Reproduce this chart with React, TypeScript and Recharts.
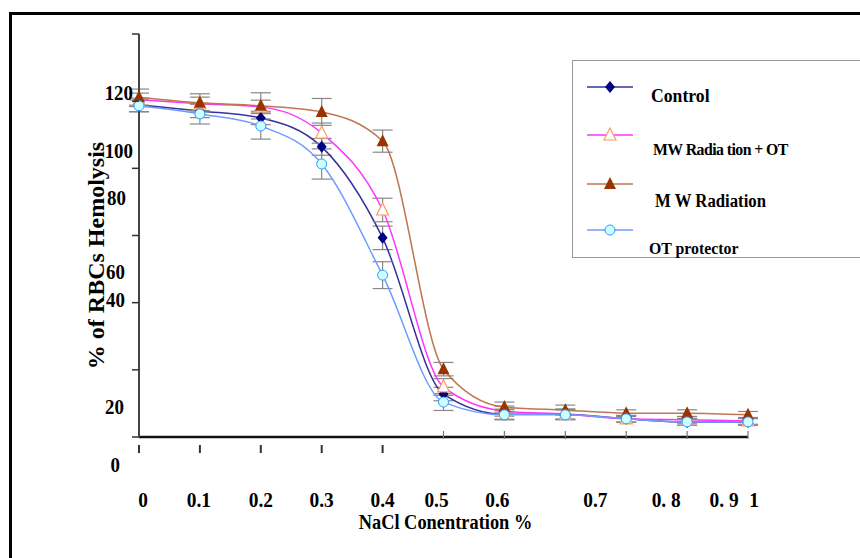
import React from 'react';
import { LineChart, Line, XAxis, YAxis, ErrorBar, Legend } from 'recharts';

// NaCl concentration (%)
const nacl = [0, 0.1, 0.2, 0.3, 0.4, 0.5, 0.6, 0.7, 0.8, 0.9, 1];
const xTickLabels = ['0', '0.1', '0.2', '0.3', '0.4', '0.5', '0.6', '0.7', '0. 8', '0. 9', '1'];
const yTicks = [0, 20, 40, 60, 80, 100, 120];
const yTickLabels = ['0', '20', '40', '60', '80', '100', '120'];

// % hemolysis
const control = [98.9, 97.1, 95.0, 86.4, 59.3, 12.8, 6.8, 6.8, 5.4, 4.5, 4.5];
const controlErr = [2, 2, 2, 2.5, 3.5, 2, 1.5, 1.5, 1, 1, 1];
const mwOt = [100.4, 99.2, 98.3, 90.5, 67.6, 14.9, 7.7, 6.8, 5.4, 5.1, 4.8];
const mwOtErr = [2, 2, 2, 3, 3.5, 2.5, 1.5, 1.5, 1, 1, 1];
const mw = [101.2, 99.5, 98.6, 96.8, 88.1, 20.2, 8.9, 8.0, 7.1, 7.1, 6.6];
const mwErr = [2.4, 2.7, 3.9, 4, 3.3, 2, 1.5, 1.5, 1, 1, 1];
const otProtector = [98.6, 96.2, 92.6, 81.3, 48.2, 10.4, 6.6, 6.6, 5.4, 4.5, 4.5];
const otErr = [1.8, 3, 3.9, 4.5, 4, 2.5, 1.5, 1.5, 1, 1, 1];

const data = nacl.map((x, i) => ({
  x,
  control: control[i],
  controlErr: controlErr[i],
  mwOt: mwOt[i],
  mwOtErr: mwOtErr[i],
  mw: mw[i],
  mwErr: mwErr[i],
  ot: otProtector[i],
  otErr: otErr[i],
}));

const serif = '"Liberation Serif", "Times New Roman", serif';

const Diamond = (p: any) => (
  <path
    key={`dia-${p.index}`}
    d={`M${p.cx},${p.cy - 6}L${p.cx + 5},${p.cy}L${p.cx},${p.cy + 6}L${p.cx - 5},${p.cy}Z`}
    fill="#000080"
  />
);
const OpenTriangle = (p: any) => (
  <path
    key={`otri-${p.index}`}
    d={`M${p.cx},${p.cy - 7}L${p.cx + 6},${p.cy + 5}L${p.cx - 6},${p.cy + 5}Z`}
    fill="#ffffff"
    stroke="#ff9966"
    strokeWidth={1.2}
  />
);
const FilledTriangle = (p: any) => (
  <path
    key={`tri-${p.index}`}
    d={`M${p.cx},${p.cy - 7}L${p.cx + 6},${p.cy + 5}L${p.cx - 6},${p.cy + 5}Z`}
    fill="#993300"
  />
);
const Circle = (p: any) => (
  <circle key={`cir-${p.index}`} cx={p.cx} cy={p.cy} r={5} fill="#ccffff" stroke="#3399ff" strokeWidth={1} />
);

const series = [
  { key: 'control', err: 'controlErr', name: 'Control', color: '#333399', Dot: Diamond, size: 19, dx: 78, dy: 35 },
  { key: 'mwOt', err: 'mwOtErr', name: 'MW Radia tion + OT', color: '#ff33ff', Dot: OpenTriangle, size: 17, dx: 80, dy: 89 },
  { key: 'mw', err: 'mwErr', name: 'M W Radiation', color: '#c0764f', Dot: FilledTriangle, size: 18, dx: 82, dy: 140 },
  { key: 'ot', err: 'otErr', name: 'OT protector', color: '#6f9bff', Dot: Circle, size: 17, dx: 76, dy: 188 },
];
const legendLineY = [26, 74, 123, 169];

// label offsets (the figure's labels do not sit on their ticks)
const yLabelShift: Record<string, [number, number]> = {
  '0': [-19, 28], '20': [-15, 37], '40': [-14, -3], '60': [-14, 36],
  '80': [-13, 29], '100': [-6, 49], '120': [-6, 59],
};
const xLabelShift = [4, -1, 0, 0, 0, -7, -7, 30, 40, 37, 6];

const YTick = (props: any) => {
  const { x, y, payload } = props;
  const label = yTickLabels[yTicks.indexOf(payload.value)];
  const [dx, dy] = yLabelShift[label];
  const tx = x + 8 + dx;
  const ty = y + dy;
  return (
    <g>
      <line x1={x + 1} x2={x + 8} y1={y} y2={y} stroke="#333" strokeWidth={1.5} />
      <text transform={`translate(${tx},${ty}) scale(0.9,1)`} dy="0.35em" textAnchor="end" fontFamily={serif} fontWeight="bold" fontSize={21} fill="#000">
        {label}
      </text>
    </g>
  );
};

const XTick = (props: any) => {
  const { x, y, payload } = props;
  const i = nacl.indexOf(payload.value);
  const below = i <= 4;
  return (
    <g>
      {below ? (
        <line x1={x} x2={x} y1={y} y2={y + 8} stroke="#333" strokeWidth={2} />
      ) : (
        <line x1={x} x2={x} y1={y - 14} y2={y - 6} stroke="#777" strokeWidth={1.2} />
      )}
      <text transform={`translate(${x + xLabelShift[i]},${y + 62}) scale(0.88,1)`} textAnchor="middle" fontFamily={serif} fontWeight="bold" fontSize={22} fill="#000">
        {xTickLabels[i]}
      </text>
    </g>
  );
};

const CustomLegend = () => (
  <div style={{ position: 'relative', width: 300, height: 196, border: '1px solid #999', background: '#fff' }}>
    {series.map((s, i) => (
      <React.Fragment key={s.key}>
        <svg style={{ position: 'absolute', left: 14, top: legendLineY[i] - 8 }} width={48} height={16}>
          <line x1={0} x2={46} y1={8} y2={8} stroke={s.color} strokeWidth={1.5} />
          {s.Dot({ cx: 23, cy: 8, index: i })}
        </svg>
        <span
          style={{
            position: 'absolute', left: s.dx, top: s.dy, transform: 'translateY(-50%) scaleX(0.93)', transformOrigin: 'left center',
            fontFamily: serif, fontWeight: 'bold', fontSize: s.size, whiteSpace: 'nowrap', color: '#000',
            letterSpacing: i === 1 ? -0.6 : 0,
          }}
        >
          {s.name}
        </span>
      </React.Fragment>
    ))}
  </div>
);

export default function App() {
  return (
    <div style={{ position: 'absolute', left: 0, top: 0, width: 860, height: 558, overflow: 'hidden', background: '#fff' }}>
      <div style={{ position: 'absolute', left: 9, top: 12, width: 860, height: 560, borderLeft: '3px solid #000', borderTop: '3px solid #000' }} />
      <LineChart width={860} height={558} data={data} margin={{ top: 34, right: 112, bottom: 0, left: 0 }} style={{ position: 'absolute', left: 0, top: 0 }}>
        <XAxis
          type="number"
          dataKey="x"
          domain={[0, 1]}
          ticks={nacl}
          height={121}
          stroke="#111"
          strokeWidth={2.5}
          tickLine={false}
          tick={<XTick />}
          interval={0}
          label={(p: any) => {
            const cx = p.viewBox.x + p.viewBox.width / 2 + 2;
            const cy = p.viewBox.y + 92;
            return (
              <text transform={`translate(${cx},${cy}) scale(0.92,1)`} textAnchor="middle" fontFamily={serif} fontWeight="bold" fontSize={20} fill="#000">
                NaCl Conentration %
              </text>
            );
          }}
        />
        <YAxis
          type="number"
          domain={[0, 120]}
          ticks={yTicks}
          width={139}
          stroke="#444"
          strokeWidth={2}
          tickLine={false}
          tick={<YTick />}
          interval={0}
          label={(p: any) => {
            const cx = p.viewBox.x + 96;
            const cy = p.viewBox.y + p.viewBox.height / 2 + 20;
            return (
              <text transform={`translate(${cx},${cy}) rotate(-90)`} textAnchor="middle" dy="0.35em" fontFamily={serif} fontWeight="bold" fontSize={24} fill="#000">
                % of RBCs Hemolysis
              </text>
            );
          }}
        />
        {series.map((s) => (
          <Line
            key={s.key}
            type="monotone"
            dataKey={s.key}
            name={s.name}
            stroke={s.color}
            strokeWidth={1.5}
            dot={s.Dot}
            activeDot={false}
            isAnimationActive={false}
          >
            <ErrorBar dataKey={s.err} width={10} stroke="#888" strokeWidth={1.2} direction="y" />
          </Line>
        ))}
        <Legend
          layout="vertical"
          align="center"
          verticalAlign="middle"
          content={<CustomLegend />}
          wrapperStyle={{ position: 'absolute', left: 572, top: 60, width: 300, height: 198 }}
        />
      </LineChart>
    </div>
  );
}
